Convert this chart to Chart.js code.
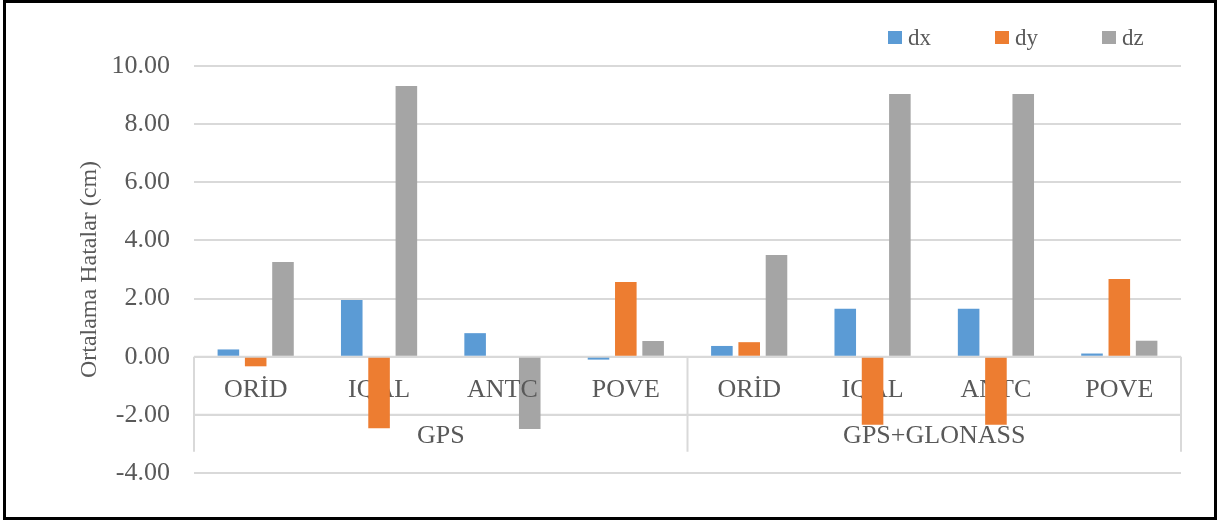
<!DOCTYPE html>
<html>
<head>
<meta charset="utf-8">
<script src="https://cdn.jsdelivr.net/npm/chart.js@4/dist/chart.umd.min.js"></script>
<style>
  html, body { margin: 0; padding: 0; background: #fff; }
  #wrap { position: relative; width: 1220px; height: 520px; }
  #frame { position: absolute; left: 3px; top: 0; width: 1214px; height: 520px; box-sizing: border-box; border: 3px solid #000; pointer-events: none; }
</style>
</head>
<body>
<div id="wrap">
  <canvas id="c" width="1220" height="520"></canvas>
  <div id="frame"></div>
</div>
<script>
// ---- data ----
const stations = ['ORİD', 'IQAL', 'ANTC', 'POVE', 'ORİD', 'IQAL', 'ANTC', 'POVE'];
const groups = ['GPS', 'GPS+GLONASS'];
const groupSize = [4, 4];
const seriesNames = ['dx', 'dy', 'dz'];
const dx = [0.25, 1.95, 0.81, -0.10, 0.37, 1.65, 1.65, 0.11];
const dy = [-0.33, -2.46, 0.00, 2.57, 0.50, -2.34, -2.34, 2.67];
const dz = [3.26, 9.31, -2.49, 0.54, 3.50, 9.04, 9.04, 0.55];
const yTicks = [-4, -2, 0, 2, 4, 6, 8, 10];
const yTitle = 'Ortalama Hatalar (cm)';

const colors = ['#5B9BD5', '#ED7D31', '#A5A5A5'];
const textColor = '#595959';
const lineColor = '#d9d9d9';
const serif = '"Liberation Serif", "Times New Roman", serif';

function groupBounds(chart) {
  const {chartArea, scales: {x}} = chart;
  const bounds = [chartArea.left];
  let idx = 0;
  groupSize.forEach((n, gi) => {
    idx += n;
    if (gi < groupSize.length - 1) {
      bounds.push((x.getPixelForValue(idx - 1) + x.getPixelForValue(idx)) / 2);
    }
  });
  bounds.push(chartArea.right);
  return bounds;
}

// multi-level category axis drawn at y = 0
const categoryAxisPlugin = {
  id: 'categoryAxis',
  beforeDatasetsDraw(chart) {
    const {ctx, chartArea, scales: {y}} = chart;
    const y0 = y.getPixelForValue(0);
    const rowSplit = y0 + 58;
    const bottom = y0 + 95;
    ctx.save();
    ctx.strokeStyle = lineColor;
    ctx.lineWidth = 2;
    ctx.beginPath();
    ctx.moveTo(chartArea.left, y0); ctx.lineTo(chartArea.right, y0);
    ctx.moveTo(chartArea.left, rowSplit); ctx.lineTo(chartArea.right, rowSplit);
    groupBounds(chart).forEach(bx => { ctx.moveTo(bx, y0); ctx.lineTo(bx, bottom); });
    ctx.stroke();
    ctx.restore();
  },
  // labels sit above the dz bars but below dx / dy bars
  beforeDatasetDraw(chart, args) {
    if (args.index !== 1) return;
    const {ctx, scales: {x, y}} = chart;
    const y0 = y.getPixelForValue(0);
    const bounds = groupBounds(chart);
    ctx.save();
    ctx.fillStyle = textColor;
    ctx.textAlign = 'center';
    ctx.textBaseline = 'alphabetic';
    ctx.font = '26px ' + serif;
    stations.forEach((s, i) => {
      ctx.fillText(s, x.getPixelForValue(i), y0 + 40);
    });
    groups.forEach((g, gi) => {
      const cx = (bounds[gi] + bounds[gi + 1]) / 2;
      ctx.fillText(g, cx, y0 + 86);
    });
    ctx.restore();
  }
};

// legend at top right
const legendPlugin = {
  id: 'customLegend',
  afterDraw(chart) {
    const {ctx} = chart;
    ctx.save();
    ctx.font = '23px ' + serif;
    ctx.textBaseline = 'alphabetic';
    ctx.textAlign = 'left';
    const startX = 888, step = 107, boxTop = 31;
    chart.data.datasets.forEach((ds, i) => {
      const bx = startX + i * step;
      ctx.fillStyle = ds.backgroundColor;
      ctx.fillRect(bx, boxTop, 14, 13);
      ctx.fillStyle = textColor;
      ctx.fillText(ds.label, bx + 20, 45);
    });
    ctx.restore();
  }
};

new Chart(document.getElementById('c'), {
  type: 'bar',
  data: {
    labels: stations,
    datasets: [
      { label: seriesNames[0], data: dx, backgroundColor: colors[0] },
      { label: seriesNames[1], data: dy, backgroundColor: colors[1] },
      { label: seriesNames[2], data: dz, backgroundColor: colors[2] }
    ]
  },
  options: {
    responsive: false,
    animation: false,
    layout: { padding: { left: 0, top: 66, right: 39, bottom: 47 } },
    datasets: { bar: { categoryPercentage: 0.664, barPercentage: 0.79 } },
    plugins: { legend: { display: false }, tooltip: { enabled: false } },
    scales: {
      x: { display: false },
      y: {
        min: yTicks[0],
        max: yTicks[yTicks.length - 1],
        afterBuildTicks(scale) { scale.ticks = yTicks.map(v => ({ value: v })); },
        afterFit(scale) { scale.width = 194; },
        border: { display: false },
        grid: { color: lineColor, lineWidth: 2, drawTicks: false },
        ticks: {
          padding: 24,
          color: textColor,
          font: { family: serif, size: 26 },
          callback: v => Number(v).toFixed(2)
        },
        title: {
          display: true,
          text: yTitle,
          color: textColor,
          font: { family: serif, size: 24 },
          padding: { top: 75, bottom: 0 }
        }
      }
    }
  },
  plugins: [categoryAxisPlugin, legendPlugin]
});
</script>
</body>
</html>
